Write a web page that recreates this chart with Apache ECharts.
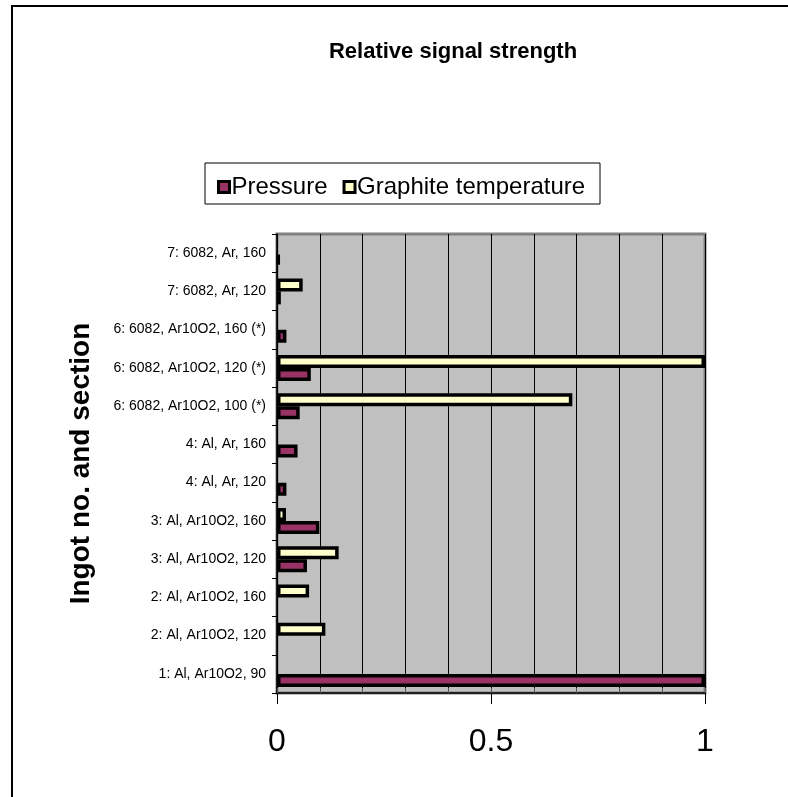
<!DOCTYPE html>
<html>
<head>
<meta charset="utf-8">
<script src="https://cdn.jsdelivr.net/npm/echarts@6/dist/echarts.min.js"></script>
<style>
html,body{margin:0;padding:0;background:#fff;}
#chart{width:788px;height:797px;}
</style>
</head>
<body>
<div id="chart"></div>
<script>
// Categories bottom-to-top
var categories = [
  "1: Al, Ar10O2, 90",
  "2: Al, Ar10O2, 120",
  "2: Al, Ar10O2, 160",
  "3: Al, Ar10O2, 120",
  "3: Al, Ar10O2, 160",
  "4: Al, Ar, 120",
  "4: Al, Ar, 160",
  "6: 6082, Ar10O2, 100 (*)",
  "6: 6082, Ar10O2, 120 (*)",
  "6: 6082, Ar10O2, 160 (*)",
  "7: 6082, Ar, 120",
  "7: 6082, Ar, 160"
];
var pressure = [1.0, null, null, 0.07, 0.099, 0.022, 0.048, 0.053, 0.079, 0.022, 0.009, 0.006];
var graphite = [null, 0.113, 0.075, 0.144, 0.021, null, null, 0.69, 1.0, null, 0.06, null];
var xTicks = [0, 0.5, 1];

var chart = echarts.init(document.getElementById('chart'), null, {renderer: 'canvas'});
var FONT = 'Liberation Sans, Arial, sans-serif';
var option = {
  animation: false,
  backgroundColor: '#fff',
  textStyle: {fontFamily: FONT},
  title: {
    text: 'Relative signal strength',
    left: 448, top: 36, textAlign: 'center',
    textStyle: {fontSize: 22, fontWeight: 'bold', color: '#000', fontFamily: FONT}
  },
  graphic: [
    {type: 'rect', shape: {x: 12, y: 6, width: 800, height: 820}, style: {fill: 'none', stroke: '#000', lineWidth: 2}, z: -10},
    {type: 'rect', shape: {x: 205, y: 163, width: 395, height: 41}, style: {fill: '#fff', stroke: '#000', lineWidth: 1}, z: -5}
  ],
  legend: {
    data: ['Pressure', 'Graphite temperature'],
    left: 212, top: 170,
    icon: 'rect', itemWidth: 11, itemHeight: 11, itemGap: 15,
    textStyle: {fontSize: 24, color: '#000', fontFamily: FONT, padding: [0, 0, 0, -3]},
    itemStyle: {borderColor: '#000', borderWidth: 3}
  },
  grid: {
    left: 277, top: 234, width: 428, height: 459,
    show: true, backgroundColor: '#C0C0C0', borderColor: '#808080', borderWidth: 3,
    containLabel: false
  },
  xAxis: [
    {
      type: 'value', min: 0, max: 1, interval: 0.1, position: 'bottom',
      axisLine: {show: false},
      axisTick: {show: true, inside: true, length: 5, lineStyle: {color: '#555'}},
      axisLabel: {show: false},
      splitLine: {show: true, lineStyle: {color: '#000', width: 1}}
    },
    {
      type: 'value', min: 0, max: 1, interval: 0.5, position: 'bottom',
      axisLine: {show: true, lineStyle: {color: '#000', width: 1.5}},
      axisTick: {show: true, length: 11, lineStyle: {color: '#000'}},
      axisLabel: {show: true, fontSize: 32, color: '#000', margin: 33, fontFamily: FONT,
        customValues: xTicks,
        formatter: function (v) { return String(v); }},
      splitLine: {show: false}
    }
  ],
  yAxis: {
    type: 'category', data: categories,
    name: 'Ingot no. and section', nameLocation: 'middle', nameRotate: 90, nameGap: 182,
    nameTextStyle: {fontSize: 28, fontWeight: 'bold', color: '#000', fontFamily: FONT},
    axisLine: {show: true, lineStyle: {color: '#000', width: 1.5}},
    axisTick: {show: true, length: 5, lineStyle: {color: '#000'}},
    axisLabel: {fontSize: 14, color: '#000', margin: 11, fontFamily: FONT},
    splitLine: {show: false}
  },
  series: [
    {
      name: 'Graphite temperature', type: 'bar', data: graphite, xAxisIndex: 0,
      barWidth: 13, barGap: '0%',
      itemStyle: {color: '#FFFFCC', borderColor: '#000', borderWidth: 3.5}
    },
    {
      name: 'Pressure', type: 'bar', data: pressure, xAxisIndex: 0,
      barWidth: 13, barGap: '0%',
      itemStyle: {color: '#993366', borderColor: '#000', borderWidth: 3.5}
    }
  ]
};
chart.setOption(option);
</script>
</body>
</html>
